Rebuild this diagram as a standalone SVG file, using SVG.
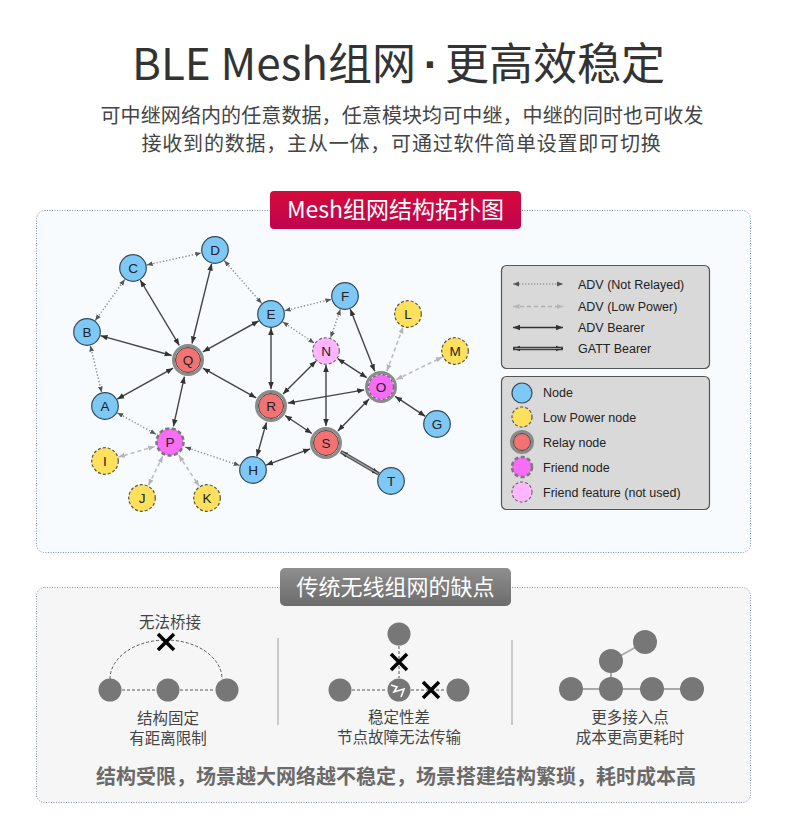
<svg xmlns="http://www.w3.org/2000/svg" width="790" height="819" viewBox="0 0 790 819">
<defs>
<style>
.cjk{font-family:"Noto Sans CJK SC","Noto Sans",sans-serif}
.lbl{font-family:"Liberation Sans",Arial,sans-serif;font-size:13.5px;fill:#222;text-anchor:middle}
.leg{font-family:"Liberation Sans",Arial,sans-serif;font-size:12.5px;fill:#222}
.nd{fill:#7ec8f6;stroke:#34495a;stroke-width:1.2}
.lp{fill:#fde05c;stroke:#555;stroke-width:1.2;stroke-dasharray:3 2}
.rl{fill:#f27372;stroke:#444;stroke-width:1}
.ring{fill:none;stroke:#8a8a8a;stroke-width:3}
.fr{fill:#f86df8;stroke:#666;stroke-width:1.1;stroke-dasharray:3 2}
.frring{fill:none;stroke:#7a7a7a;stroke-width:2.6;stroke-dasharray:4 2.5}
.ff{fill:#ffb5ff;stroke:#666;stroke-width:1.1;stroke-dasharray:3 2}
.sol{stroke:#444;stroke-width:1.4;fill:none;marker-start:url(#as);marker-end:url(#as)}
.dot{stroke:#8a8a8a;stroke-width:1.4;stroke-dasharray:1.3 2;fill:none;marker-start:url(#ad);marker-end:url(#ad)}
.dsh{stroke:#bdbdbd;stroke-width:1.6;stroke-dasharray:4 3;fill:none;marker-start:url(#al);marker-end:url(#al)}
.gbar{fill:#777}
.sub{font-size:15.5px;fill:#444;text-anchor:middle}
.dl{stroke:#555;stroke-width:1;stroke-dasharray:3 2;fill:none}
.xm{stroke:#000;stroke-width:3.5;stroke-linecap:butt}
.tt{font-size:44px;fill:#333}
.st{font-size:20px;fill:#444;text-anchor:middle}
</style>
<marker id="as" viewBox="0 0 8 8" refX="8" refY="4" markerWidth="7" markerHeight="7" markerUnits="userSpaceOnUse" orient="auto-start-reverse"><path d="M0,0.8 L8,4 L0,7.2 z" fill="#333"/></marker>
<marker id="ad" viewBox="0 0 8 8" refX="8" refY="4" markerWidth="6" markerHeight="6" markerUnits="userSpaceOnUse" orient="auto-start-reverse"><path d="M0,0.8 L8,4 L0,7.2 z" fill="#555"/></marker>
<marker id="al" viewBox="0 0 8 8" refX="8" refY="4" markerWidth="6.5" markerHeight="6.5" markerUnits="userSpaceOnUse" orient="auto-start-reverse"><path d="M0,0.8 L8,4 L0,7.2 z" fill="#b5b5b5"/></marker>
<linearGradient id="gRed" x1="0" y1="0" x2="0" y2="1"><stop offset="0" stop-color="#d40a3a"/><stop offset="1" stop-color="#c0044f"/></linearGradient>
<linearGradient id="gGray" x1="0" y1="0" x2="0" y2="1"><stop offset="0" stop-color="#8e8e8e"/><stop offset="1" stop-color="#6c6c6c"/></linearGradient>
</defs>
<rect width="790" height="819" fill="#fff"/>

<!-- Title -->
<g id="title">
<text class="cjk tt" x="416" y="80" text-anchor="end">BLE Mesh组网</text>
<text x="431" y="80" font-family="'Liberation Sans',Arial,sans-serif" font-size="44" font-weight="bold" fill="#333" text-anchor="middle">·</text>
<text class="cjk tt" x="445" y="80">更高效稳定</text>
<text class="cjk st" x="402" y="122.5" letter-spacing="0.1">可中继网络内的任意数据，任意模块均可中继，中继的同时也可收发</text>
<text class="cjk st" x="401.5" y="150.5" letter-spacing="0.8">接收到的数据，主从一体，可通过软件简单设置即可切换</text>
</g>

<!-- Panel 1 -->
<g id="panel1">
<rect x="36.5" y="210.5" width="714" height="342" rx="8" fill="#f7fbfe" stroke="#7f93a6" stroke-width="1" stroke-dasharray="1 1.5"/>
<rect x="270" y="191" width="251" height="38" rx="4" fill="url(#gRed)"/>
<text class="cjk" x="395.5" y="218" font-size="23" fill="#fff" text-anchor="middle">Mesh组网结构拓扑图</text>
</g>

<!-- Connectors -->
<g id="connectors">
<line class="dot" x1="146.7" y1="265" x2="201.3" y2="253"/>
<line class="dot" x1="124.8" y1="279.4" x2="95.2" y2="320.6"/>
<line class="dot" x1="224.2" y1="260.5" x2="261.8" y2="303.5"/>
<line class="dot" x1="284.6" y1="310.7" x2="331.4" y2="299.3"/>
<line class="dot" x1="282.6" y1="321.8" x2="314.4" y2="343.2"/>
<line class="dot" x1="340.4" y1="309.2" x2="330.6" y2="337.8"/>
<line class="dot" x1="90.3" y1="345.6" x2="101.7" y2="392.4"/>
<line class="dot" x1="117.2" y1="412.8" x2="156" y2="434.2"/>
<line class="dot" x1="185.2" y1="447.1" x2="239.7" y2="465.5"/>

<line class="dsh" x1="386.9" y1="371.1" x2="403.1" y2="326.9"/>
<line class="dsh" x1="396.3" y1="379.6" x2="442.4" y2="357.1"/>
<line class="dsh" x1="154.6" y1="446.5" x2="118.4" y2="457.1"/>
<line class="dsh" x1="162.8" y1="456.3" x2="148.3" y2="485.5"/>
<line class="dsh" x1="178.8" y1="455.3" x2="199.3" y2="486.3"/>

<line class="sol" x1="140.2" y1="280" x2="179.3" y2="345.4"/>
<line class="sol" x1="211.7" y1="263.6" x2="192" y2="343.5"/>
<line class="sol" x1="100.5" y1="335.7" x2="171.6" y2="355.5"/>
<line class="sol" x1="258.8" y1="320.8" x2="202.9" y2="351.8"/>
<line class="sol" x1="117.2" y1="399.2" x2="173.1" y2="368.2"/>
<line class="sol" x1="173.4" y1="426.4" x2="184.4" y2="376.6"/>
<line class="sol" x1="202.9" y1="368.2" x2="256.1" y2="397.8"/>
<line class="sol" x1="271" y1="328" x2="271" y2="389"/>
<line class="sol" x1="283" y1="394" x2="316.1" y2="360.9"/>
<line class="sol" x1="287.8" y1="403.1" x2="364.2" y2="389.9"/>
<line class="sol" x1="266.4" y1="422.4" x2="256.8" y2="456.5"/>
<line class="sol" x1="285.1" y1="415.5" x2="311.9" y2="433.5"/>
<line class="sol" x1="326" y1="365" x2="326" y2="426"/>
<line class="sol" x1="337.7" y1="358.7" x2="366.8" y2="377.7"/>
<line class="sol" x1="350.2" y1="309" x2="374.7" y2="371.2"/>
<line class="sol" x1="369.1" y1="399.1" x2="337.9" y2="430.9"/>
<line class="sol" x1="395.2" y1="396.4" x2="425.3" y2="416.3"/>
<line class="sol" x1="266.1" y1="465.1" x2="310.1" y2="448.9"/>

<line x1="340.7" y1="451.6" x2="378.9" y2="473.9" stroke="#555" stroke-width="3.6" marker-start="url(#as)" marker-end="url(#as)"/>
<line x1="341.5" y1="452.1" x2="378" y2="473.4" stroke="#a8a8a8" stroke-width="1.2"/>
</g>

<!-- Nodes -->
<g id="node-A"><circle class="nd" cx="105" cy="406" r="13.3"/><text class="lbl" x="105" y="410.8">A</text></g>
<g id="node-B"><circle class="nd" cx="87" cy="332" r="13.3"/><text class="lbl" x="87" y="336.8">B</text></g>
<g id="node-C"><circle class="nd" cx="133" cy="268" r="13.3"/><text class="lbl" x="133" y="272.8">C</text></g>
<g id="node-D"><circle class="nd" cx="215" cy="250" r="13.3"/><text class="lbl" x="215" y="254.8">D</text></g>
<g id="node-E"><circle class="nd" cx="271" cy="314" r="13.3"/><text class="lbl" x="271" y="318.8">E</text></g>
<g id="node-F"><circle class="nd" cx="345" cy="296" r="13.3"/><text class="lbl" x="345" y="300.8">F</text></g>
<g id="node-G"><circle class="nd" cx="437" cy="424" r="13.3"/><text class="lbl" x="437" y="428.8">G</text></g>
<g id="node-H"><circle class="nd" cx="253" cy="470" r="13.3"/><text class="lbl" x="253" y="474.8">H</text></g>
<g id="node-T"><circle class="nd" cx="391" cy="481" r="13.3"/><text class="lbl" x="391" y="485.8">T</text></g>
<g id="node-I"><circle class="lp" cx="105" cy="461" r="13.3"/><text class="lbl" x="105" y="465.8">I</text></g>
<g id="node-J"><circle class="lp" cx="142" cy="498" r="13.3"/><text class="lbl" x="142" y="502.8">J</text></g>
<g id="node-K"><circle class="lp" cx="207" cy="498" r="13.3"/><text class="lbl" x="207" y="502.8">K</text></g>
<g id="node-L"><circle class="lp" cx="408" cy="314" r="13.3"/><text class="lbl" x="408" y="318.8">L</text></g>
<g id="node-M"><circle class="lp" cx="455" cy="351" r="13.3"/><text class="lbl" x="455" y="355.8">M</text></g>
<g id="node-N"><circle class="ff" cx="326" cy="351" r="13.3"/><text class="lbl" x="326" y="355.8">N</text></g>
<g id="node-Q"><circle class="ring" cx="188" cy="360" r="14.5"/><circle class="rl" cx="188" cy="360" r="12.5"/><text class="lbl" x="188" y="364.8">Q</text></g>
<g id="node-R"><circle class="ring" cx="271" cy="406" r="14.5"/><circle class="rl" cx="271" cy="406" r="12.5"/><text class="lbl" x="271" y="410.8">R</text></g>
<g id="node-S"><circle class="ring" cx="326" cy="443" r="14.5"/><circle class="rl" cx="326" cy="443" r="12.5"/><text class="lbl" x="326" y="447.8">S</text></g>
<g id="node-O"><circle class="ring" cx="381" cy="387" r="14.5"/><circle class="fr" cx="381" cy="387" r="12.5"/><text class="lbl" x="381" y="391.8">O</text></g>
<g id="node-P"><circle fill="#f86df8" cx="170" cy="442" r="13.5"/><circle class="frring" cx="170" cy="442" r="13.5"/><text class="lbl" x="170" y="446.8">P</text></g>

<!-- Legend -->
<g id="legend-edges">
<rect x="501.5" y="265.5" width="208" height="103" rx="5" fill="#d9d9d9" stroke="#555" stroke-width="1.2"/>
<line x1="513" y1="284" x2="563" y2="284" stroke="#777" stroke-width="1.2" stroke-dasharray="1.2 1.8" marker-start="url(#ad)" marker-end="url(#ad)"/>
<line x1="513" y1="306.5" x2="563" y2="306.5" stroke="#b0b0b0" stroke-width="1.4" stroke-dasharray="4 3" marker-start="url(#al)" marker-end="url(#al)"/>
<line x1="513" y1="327.5" x2="563" y2="327.5" stroke="#333" stroke-width="1.4" marker-start="url(#as)" marker-end="url(#as)"/>
<line x1="513" y1="348.5" x2="563" y2="348.5" stroke="#444" stroke-width="3.4" marker-start="url(#as)" marker-end="url(#as)"/>
<line x1="515" y1="348.5" x2="561" y2="348.5" stroke="#9a9a9a" stroke-width="1"/>
<text class="leg" x="578" y="288.5">ADV (Not Relayed)</text>
<text class="leg" x="578" y="311">ADV (Low Power)</text>
<text class="leg" x="578" y="332">ADV Bearer</text>
<text class="leg" x="578" y="353">GATT Bearer</text>
</g>
<g id="legend-nodes">
<rect x="501.5" y="376.5" width="208" height="133" rx="5" fill="#d9d9d9" stroke="#555" stroke-width="1.2"/>
<circle class="nd" cx="522" cy="393" r="10"/>
<circle class="lp" cx="522" cy="417" r="10"/>
<circle class="ring" cx="522" cy="442" r="10.5"/><circle class="rl" cx="522" cy="442" r="8.5"/>
<circle fill="#f86df8" cx="522" cy="467" r="10"/><circle class="frring" cx="522" cy="467" r="10"/>
<circle class="ff" cx="522" cy="492" r="10"/>
<text class="leg" x="543" y="397">Node</text>
<text class="leg" x="543" y="421.5">Low Power node</text>
<text class="leg" x="543" y="446.5">Relay node</text>
<text class="leg" x="543" y="471.5">Friend node</text>
<text class="leg" x="543" y="496.5">Friend feature (not used)</text>
</g>

<!-- Panel 2 -->
<g id="panel2">
<rect x="36.5" y="587.5" width="714" height="215" rx="8" fill="#f6f6f6" stroke="#8797a8" stroke-width="1" stroke-dasharray="1 1.5"/>
<rect x="280" y="568" width="231" height="38" rx="5" fill="url(#gGray)"/>
<text class="cjk" x="395.5" y="595" font-size="22" fill="#fff" text-anchor="middle">传统无线组网的缺点</text>
<line x1="278" y1="638" x2="278" y2="725" stroke="#bbb" stroke-width="1.5"/>
<line x1="512" y1="640" x2="512" y2="725" stroke="#bbb" stroke-width="1.5"/>
</g>

<g id="case1">
<text class="cjk sub" x="170" y="628">无法桥接</text>
<path class="dl" d="M110,679 A56,39 0 0 1 222,679"/>
<line class="dl" x1="122" y1="690" x2="156" y2="690"/>
<line class="dl" x1="180" y1="690" x2="215" y2="690"/>
<circle class="gbar" cx="110" cy="690" r="11.5"/>
<circle class="gbar" cx="168" cy="690" r="11.5"/>
<circle class="gbar" cx="227" cy="690" r="11.5"/>
<path class="xm" d="M158,634 L174,650 M174,634 L158,650"/>
<text class="cjk sub" x="168" y="724">结构固定</text>
<text class="cjk sub" x="168" y="744">有距离限制</text>
</g>

<g id="case2">
<line class="dl" x1="399" y1="646" x2="399" y2="678" stroke-dasharray="2 2"/>
<line class="dl" x1="352" y1="690" x2="387" y2="690"/>
<line class="dl" x1="411" y1="690" x2="446" y2="690" stroke-dasharray="2 2"/>
<circle class="gbar" cx="399" cy="634" r="11.5"/>
<circle class="gbar" cx="340" cy="690" r="11.5"/>
<circle class="gbar" cx="458" cy="690" r="11.5"/>
<circle class="gbar" cx="399" cy="690" r="11.5"/>
<polyline points="391,685 397,687 394,692 404,689 401,697" fill="none" stroke="#fff" stroke-width="1.6"/>
<path class="xm" d="M391,654 L407,670 M407,654 L391,670"/>
<path class="xm" d="M423,682 L439,698 M439,682 L423,698"/>
<text class="cjk sub" x="399" y="723">稳定性差</text>
<text class="cjk sub" x="399" y="743">节点故障无法传输</text>
</g>

<g id="case3">
<line x1="571" y1="689" x2="692" y2="689" stroke="#aaa" stroke-width="2"/>
<line x1="611" y1="661" x2="611" y2="689" stroke="#aaa" stroke-width="2"/>
<line x1="611" y1="661" x2="645" y2="642" stroke="#aaa" stroke-width="2"/>
<circle class="gbar" cx="645" cy="642" r="12"/>
<circle class="gbar" cx="611" cy="661" r="12"/>
<circle class="gbar" cx="571" cy="689" r="12"/>
<circle class="gbar" cx="611" cy="689" r="12"/>
<circle class="gbar" cx="652" cy="689" r="12"/>
<circle class="gbar" cx="692" cy="689" r="12"/>
<text class="cjk sub" x="630" y="723">更多接入点</text>
<text class="cjk sub" x="630" y="743">成本更高更耗时</text>
</g>

<g id="summary">
<text class="cjk" x="396" y="784" font-size="20" font-weight="bold" fill="#6a6a6a" text-anchor="middle">结构受限，场景越大网络越不稳定，场景搭建结构繁琐，耗时成本高</text>
</g>
</svg>
